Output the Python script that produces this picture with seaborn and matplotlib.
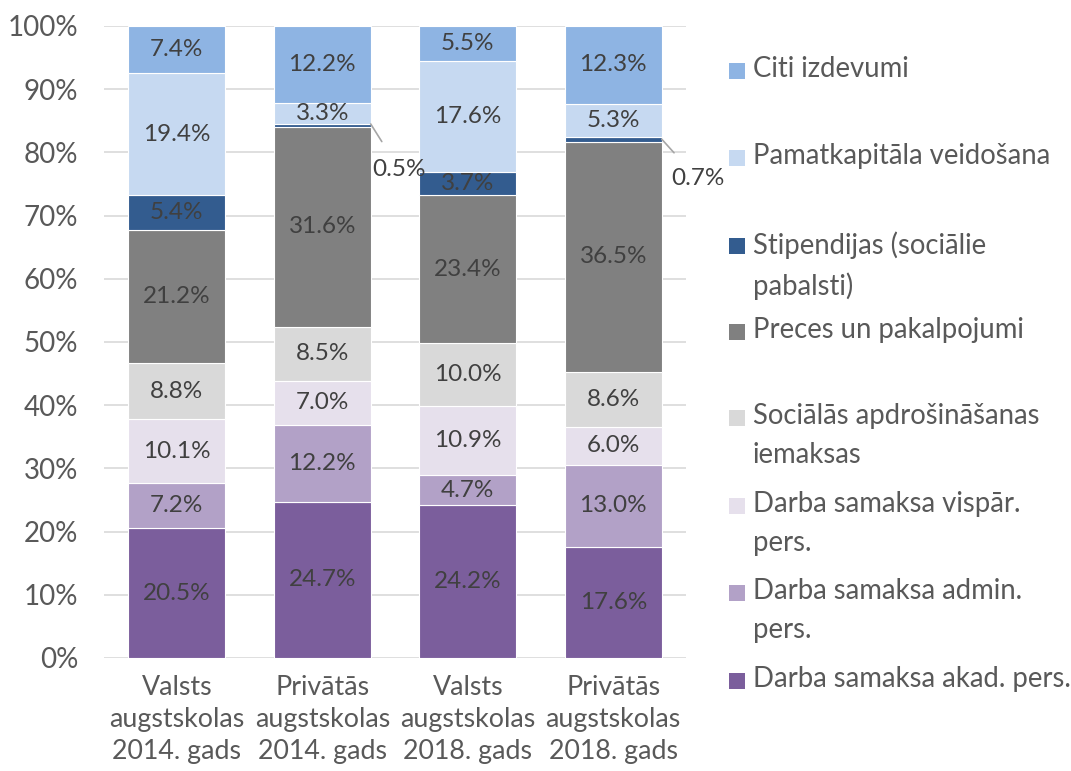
import pandas as pd
import matplotlib
matplotlib.use("Agg")
import matplotlib.pyplot as plt
from matplotlib.patches import Rectangle
import numpy as np
import seaborn as sns

# categories (x axis)
categories = ["Valsts\naugstskolas\n2014. gads", "Privātās\naugstskolas\n2014. gads",
              "Valsts\naugstskolas\n2018. gads", "Privātās\naugstskolas\n2018. gads"]

# series, bottom to top (shares in %)
series = ["Darba samaksa akad. pers.", "Darba samaksa admin. pers.",
          "Darba samaksa vispār. pers.", "Sociālās apdrošināšanas iemaksas",
          "Preces un pakalpojumi", "Stipendijas (sociālie pabalsti)",
          "Pamatkapitāla veidošana", "Citi izdevumi"]
akad = [20.5, 24.7, 24.2, 17.6]
admin = [7.2, 12.2, 4.7, 13.0]
vispar = [10.1, 7.0, 10.9, 6.0]
soc = [8.8, 8.5, 10.0, 8.6]
preces = [21.2, 31.6, 23.4, 36.5]
stip = [5.4, 0.5, 3.7, 0.7]
pamat = [19.4, 3.3, 17.6, 5.3]
citi = [7.4, 12.2, 5.5, 12.3]

legend_labels = ["Citi izdevumi", "Pamatkapitāla veidošana", "Stipendijas (sociālie\npabalsti)",
                 "Preces un pakalpojumi", "Sociālās apdrošināšanas\niemaksas",
                 "Darba samaksa vispār.\npers.", "Darba samaksa admin.\npers.",
                 "Darba samaksa akad. pers."]

colors = ["#7b5e9c", "#b2a1c7", "#e6e0ec", "#d9d9d9", "#808080", "#335c8f", "#c6d9f1", "#8eb4e3"]

values = [akad, admin, vispar, soc, preces, stip, pamat, citi]

sns.set_style("white")
plt.rcParams["font.family"] = ["Lato", "DejaVu Sans"]

fig = plt.figure(figsize=(10.71, 7.71), dpi=100)
ax = fig.add_axes([104 / 1071, 113 / 771, 582 / 1071, 632 / 771])

bottom = np.zeros(len(categories))
for name, vals, col in zip(series, values, colors):
    d = pd.DataFrame({"kategorija": categories, "v": vals})
    sns.barplot(data=d, x="kategorija", y="v", color=col, bottom=bottom.copy(),
                width=0.667, saturation=1, edgecolor="white", linewidth=0.8, ax=ax, zorder=3)
    bottom += np.array(vals)

# data labels
for cont, vals in zip(ax.containers, values):
    labs = [f"{v:.1f}%" if v >= 1 else "" for v in vals]
    ax.bar_label(cont, labels=labs, label_type="center", fontsize=17.5, color="#404040")

# small values with leader lines
ax.annotate("0.5%", xy=(1.333, 84.5), xytext=(1.53, 77.3), fontsize=17.5, color="#404040",
            ha="center", va="center", annotation_clip=False,
            arrowprops=dict(arrowstyle="-", color="#a6a6a6", lw=1.2, shrinkA=12, shrinkB=0))
ax.annotate("0.7%", xy=(3.333, 82.1), xytext=(3.58, 75.8), fontsize=17.5, color="#404040",
            ha="center", va="center", annotation_clip=False,
            arrowprops=dict(arrowstyle="-", color="#a6a6a6", lw=1.2, shrinkA=12, shrinkB=0))

ax.set_xlim(-0.5, 3.5)
ax.set_ylim(0, 100)
ax.set_yticks(range(0, 101, 10))
ax.set_yticklabels([f"{t}%" for t in range(0, 101, 10)])
ax.yaxis.grid(True, color="#d9d9d9", lw=1.2, zorder=0)
ax.set_axisbelow(True)
for s in ax.spines.values():
    s.set_visible(False)
ax.tick_params(axis="both", length=0, labelcolor="#595959")
ax.tick_params(axis="y", pad=18.5, labelsize=20)
ax.tick_params(axis="x", pad=12, labelsize=19.3)
for lab in ax.get_xticklabels():
    lab.set_linespacing(1.36)
ax.set_xlabel("")
ax.set_ylabel("")

# legend, drawn by hand to keep the Excel spacing
leg_colors = colors[::-1]
leg_y = [71, 158, 246, 332, 418, 506, 593, 681]
for lab, col, yp in zip(legend_labels, leg_colors, leg_y):
    fig.patches.append(Rectangle((729 / 1071, 1 - (yp + 8) / 771), 16 / 1071, 16 / 771,
                                 transform=fig.transFigure, facecolor=col, edgecolor="none"))
    fig.text(753 / 1071, 1 - (yp - 15) / 771, lab, fontsize=19.8, color="#595959",
             va="top", ha="left", linespacing=1.62)

fig.savefig("out.png", dpi=100)
